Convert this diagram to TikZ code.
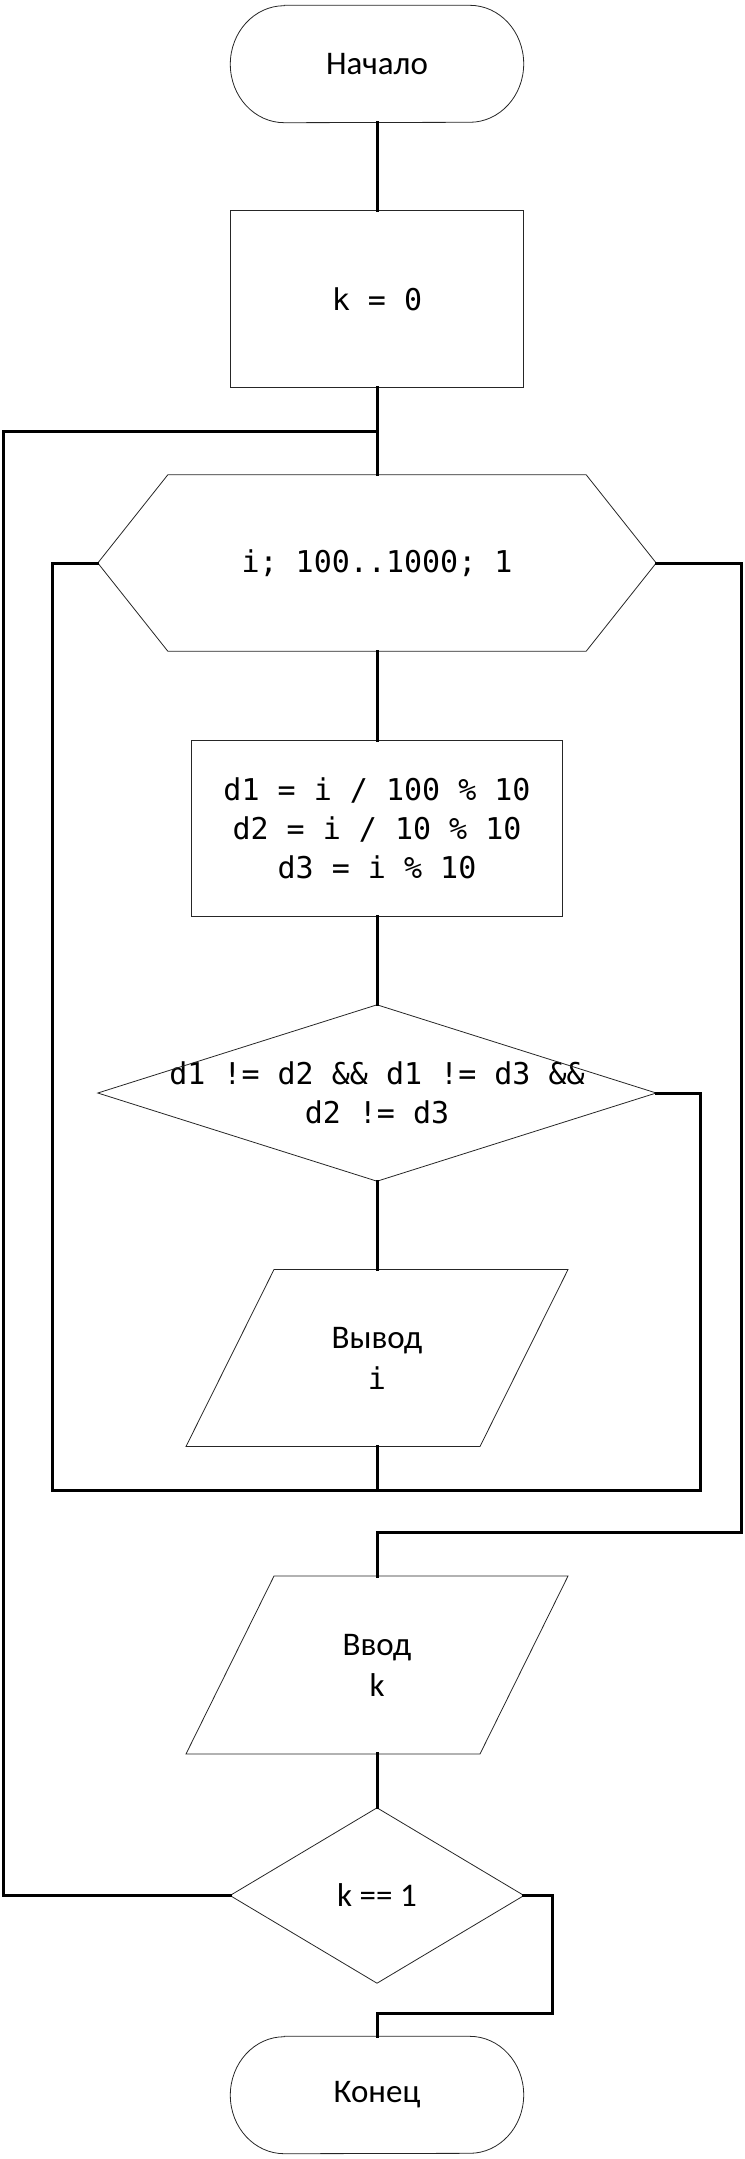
\documentclass[tikz,border=0pt]{standalone}
\usepackage{fontspec}
\setmainfont{Carlito}
\newfontfamily\codefont{DejaVu Sans Mono}
\usetikzlibrary{calc}
\tikzset{
  blk/.style={draw=none, minimum width=#1, inner sep=0pt, align=center},
  outl/.style={draw=black!85, line width=0.8pt},
  conn/.style={draw=black, line width=3pt, line cap=rect},
  sans/.style={font=\fontsize{33}{41}\selectfont},
  code/.style={font=\codefont\fontsize{30}{39}\selectfont},
}
\begin{document}
\begin{tikzpicture}[x=1pt,y=-1pt]
\useasboundingbox (0,0) rectangle (744,2159);
% nodes
\node[blk=293pt, minimum height=117pt, sans] (st) at (377,64) {Начало};
\node[blk=293pt, minimum height=176pt, code] (k0) at (377,299) {k = 0};
\node[blk=558pt, minimum height=176pt, code] (hx) at (377,563) {i; 100..1000; 1};
\node[blk=370.5pt, minimum height=175pt, code] (db) at (377,828.5) {d1 = i / 100 \% 10\\d2 = i / 10 \% 10\\d3 = i \% 10};
\node[blk=558pt, minimum height=176pt, code] (dm1) at (377,1093) {d1 != d2 \&\& d1 != d3 \&\&\\d2 != d3};
\node[blk=381.6pt, minimum height=176.5pt, sans] (out) at (377,1358) {Вывод\\{\codefont\fontsize{30}{39}\selectfont i}};
\node[blk=381.6pt, minimum height=177.5pt, sans] (inp) at (377,1665) {Ввод\\k};
\node[blk=293.5pt, minimum height=175pt, sans] (dm2) at (377,1895.5) {k == 1};
\node[blk=293pt, minimum height=117pt, sans] (en) at (377,2095) {Конец};
% outlines
\draw[outl] ($(st.north west)+(54,0)$) -- ($(st.north east)+(-54,0)$) arc[start angle=-90, end angle=90, x radius=54, y radius=58.5] -- ($(st.south west)+(54,0)$) arc[start angle=90, end angle=270, x radius=54, y radius=58.5] -- cycle;
\draw[outl] (k0.south west) rectangle (k0.north east);
\draw[outl] (hx.west) -- ($(hx.north west)+(70,0)$) -- ($(hx.north east)+(-70,0)$) -- (hx.east) -- ($(hx.south east)+(-70,0)$) -- ($(hx.south west)+(70,0)$) -- cycle;
\draw[outl] (db.south west) rectangle (db.north east);
\draw[outl] (dm1.north) -- (dm1.east) -- (dm1.south) -- (dm1.west) -- cycle;
\draw[outl] ($(out.north west)+(88,0)$) -- (out.north east) -- ($(out.south east)+(-88,0)$) -- (out.south west) -- cycle;
\draw[outl] ($(inp.north west)+(88,0)$) -- (inp.north east) -- ($(inp.south east)+(-88,0)$) -- (inp.south west) -- cycle;
\draw[outl] (dm2.north) -- (dm2.east) -- (dm2.south) -- (dm2.west) -- cycle;
\draw[outl] ($(en.north west)+(54,0)$) -- ($(en.north east)+(-54,0)$) arc[start angle=-90, end angle=90, x radius=54, y radius=58.5] -- ($(en.south west)+(54,0)$) arc[start angle=90, end angle=270, x radius=54, y radius=58.5] -- cycle;
% coordinates
\coordinate (jl) at (377,431);
\coordinate (L1) at (3,1895.5);
\coordinate (L2) at (3,431);
\coordinate (a1) at (52,563);
\coordinate (a2) at (52,1490);
\coordinate (bm) at (377,1490);
\coordinate (b1) at (700,1093);
\coordinate (b2) at (700,1490);
\coordinate (c1) at (741,563);
\coordinate (c2) at (741,1532.5);
\coordinate (c3) at (377,1532.5);
\coordinate (e1) at (552.5,1895.5);
\coordinate (e2) at (552.5,2013);
\coordinate (e3) at (377,2013);
% connectors
\draw[conn] (st.south) -- (k0.north);
\draw[conn] (k0.south) -- (hx.north);
\draw[conn] (hx.south) -- (db.north);
\draw[conn] (db.south) -- (dm1.north);
\draw[conn] (dm1.south) -- (out.north);
\draw[conn] (out.south) -- (bm);
\draw[conn] (hx.west) -- (a1) -- (a2) -- (b2) -- (b1) -- (dm1.east);
\draw[conn] (hx.east) -- (c1) -- (c2) -- (c3) -- (inp.north);
\draw[conn] (inp.south) -- (dm2.north);
\draw[conn] (dm2.west) -- (L1) -- (L2) -- (jl);
\draw[conn] (dm2.east) -- (e1) -- (e2) -- (e3) -- (en.north);
\end{tikzpicture}
\end{document}
